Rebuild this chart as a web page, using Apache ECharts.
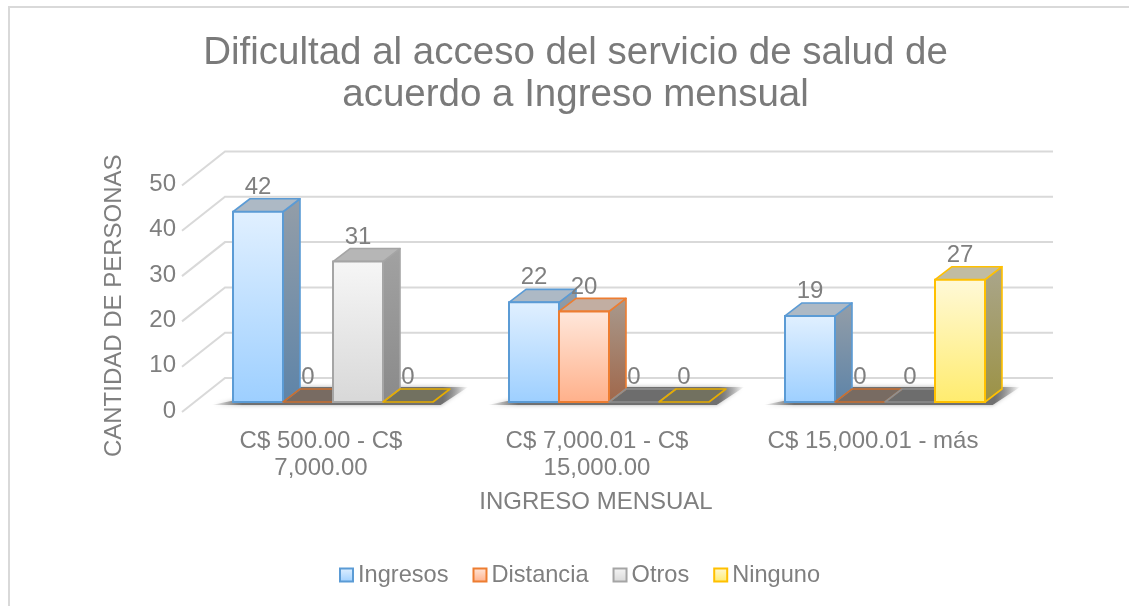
<!DOCTYPE html>
<html>
<head>
<meta charset="utf-8">
<style>html,body{margin:0;padding:0;background:#fff}#c{width:1129px;height:606px}</style>
<script src="https://cdn.jsdelivr.net/npm/echarts@6/dist/echarts.min.js"></script>
</head>
<body>
<div id="c"></div>
<script>
const titleText = 'Dificultad al acceso del servicio de salud de\nacuerdo a Ingreso mensual';
const categories = ['C$ 500.00 - C$\n7,000.00', 'C$ 7,000.01 - C$\n15,000.00', 'C$ 15,000.01 - más'];
const yTicks = [0, 10, 20, 30, 40, 50];
const seriesNames = ['Ingresos', 'Distancia', 'Otros', 'Ninguno'];
const ingresos = [42, 22, 19];
const distancia = [0, 20, 0];
const otros = [31, 0, 0];
const ninguno = [0, 0, 27];
const seriesValues = [ingresos, distancia, otros, ninguno];

const FONT = '"Liberation Sans", Arial, sans-serif';
const TXT = '#7f7f7f';
const grad = (a, b) => ({type:'linear', x:0, y:0, x2:0, y2:1, colorStops:[{offset:0,color:a},{offset:1,color:b}]});
const palette = [
  {line:'#5b9bd5', lineDark:'#5b9bd5', front:['#e1f0ff','#9dcfff'], side:['#949ea8','#5e84a8'], top:'#adb9c5', flat:'rgba(91,155,213,0.1)'},
  {line:'#ed7d31', lineDark:'#c86f30', front:['#ffe8dc','#ffb08a'], side:['#a89a8e','#a0674a'], top:'#c2aea2', flat:'rgba(150,90,50,0.22)'},
  {line:'#a5a5a5', lineDark:'#8f8f8f', front:['#f6f6f6','#d8d8d8'], side:['#a2a2a2','#8a8a8a'], top:'#b6b6b6', flat:'rgba(100,100,100,0.25)'},
  {line:'#ffc000', lineDark:'#e6ac00', front:['#fff9d8','#ffec6e'], side:['#aaa68c','#9c9244'], top:'#c1bca2', flat:'rgba(120,115,60,0.3)'}
];
const DX = 17, DY = -13;      // bar depth projection
const BAR_RATIO = 50 / 276;   // bar width / band width

function barItem(si) {
  return function (params, api) {
    const cat = api.value(0), val = api.value(1);
    const base = api.coord([cat, 0]);
    const tip = api.coord([cat, val]);
    const band = api.size([1, 0])[0];
    const w = band * BAR_RATIO;
    const x = base[0] - 2 * w + si * w;
    const y0 = base[1], y1 = tip[1];
    const p = palette[si];
    const kids = [];
    if (val > 0) {
      kids.push({type:'polygon', shape:{points:[[x+w,y1],[x+w+DX,y1+DY],[x+w+DX,y0+DY],[x+w,y0]]},
        style:{fill:grad(p.side[0],p.side[1]), stroke:p.line, lineWidth:1.6, lineJoin:'round'}});
      kids.push({type:'polygon', shape:{points:[[x,y1],[x+DX,y1+DY],[x+w+DX,y1+DY],[x+w,y1]]},
        style:{fill:p.top, stroke:p.line, lineWidth:1.6, lineJoin:'round'}});
      kids.push({type:'rect', shape:{x:x, y:y1, width:w, height:y0-y1},
        style:{fill:grad(p.front[0],p.front[1]), stroke:p.line, lineWidth:2}});
    } else {
      kids.push({type:'polygon', shape:{points:[[x,y0],[x+DX,y0+DY],[x+w+DX,y0+DY],[x+w,y0]]},
        style:{fill:p.flat, stroke:p.lineDark, lineWidth:1.6, lineJoin:'round'}});
    }
    kids.push({type:'text', z2:100, style:{text:String(val), x:x+w/2, y:y1-24.5, align:'center', verticalAlign:'middle',
      fill:TXT, font:'24px '+FONT}});
    return {type:'group', children:kids};
  };
}

function wallItem(params, api) {
  const p = api.coord([0, api.value(0)]);
  const cs = params.coordSys;
  const y = p[1];
  return {type:'polyline', shape:{points:[[cs.x-13,y+10],[cs.x+30,y-24],[cs.x+30+cs.width,y-24]]},
    style:{fill:null, stroke:'#d9d9d9', lineWidth:2}};
}

function shadowItem(params, api) {
  const base = api.coord([api.value(0), 0]);
  const band = api.size([1, 0])[0];
  const c = base[0], y = base[1];
  const l = c - band*0.44, r = c + band*0.39, tl = c - band*0.12, tr = c + band*0.49;
  return {type:'polygon', shape:{points:[[l,y+3],[r,y+3],[tr,y-15],[tl,y-15]]},
    style:{fill:{type:'linear',x:0,y:0,x2:1,y2:0,colorStops:[
      {offset:0,color:'rgba(110,110,110,0)'},{offset:0.12,color:'#707070'},{offset:0.9,color:'#707070'},{offset:1,color:'rgba(110,110,110,0)'}]},
      shadowBlur:4, shadowColor:'rgba(120,120,120,0.6)'}};
}

const series = [
  {type:'custom', name:'walls', silent:true, coordinateSystem:'cartesian2d', renderItem:wallItem,
    data:yTicks.map(v=>[v]), encode:{y:0}, z:1},
  {type:'custom', name:'floor', silent:true, coordinateSystem:'cartesian2d', renderItem:shadowItem,
    data:categories.map((c,i)=>[i]), encode:{x:0}, z:2}
];
seriesNames.forEach((name, si) => {
  series.push({type:'custom', name, coordinateSystem:'cartesian2d', renderItem:barItem(si),
    data:seriesValues[si].map((v,i)=>[i,v]), encode:{x:0,y:1}, z:3+si,
    itemStyle:{color:palette[si].line}});
});

const chart = echarts.init(document.getElementById('c'), null, {renderer:'canvas'});
chart.setOption({
  animation:false,
  backgroundColor:'#ffffff',
  textStyle:{fontFamily:FONT},
  title:{text:titleText, left:570.5, top:27, textAlign:'center',
    textStyle:{fontFamily:FONT, fontSize:38.5, fontWeight:'normal', color:'#7a7a7a', lineHeight:42}},
  grid:{left:195, width:828, top:175.5, height:226.5},
  xAxis:{type:'category', data:categories, name:'INGRESO MENSUAL', nameLocation:'middle', nameGap:88,
    nameTextStyle:{fontFamily:FONT, fontSize:24, color:TXT, padding:[0,26,0,0]},
    axisLine:{show:false}, axisTick:{show:false}, splitLine:{show:false},
    axisLabel:{interval:0, margin:26, color:TXT, fontFamily:FONT, fontSize:24, lineHeight:27, padding:[0,24,0,0]}},
  yAxis:{type:'value', min:0, max:50, interval:10, name:'CANTIDAD DE PERSONAS', nameLocation:'middle', nameGap:69,
    nameTextStyle:{fontFamily:FONT, fontSize:24, color:TXT, padding:[0,34,0,0]},
    axisLine:{show:false}, axisTick:{show:false}, splitLine:{show:false},
    axisLabel:{margin:19, color:TXT, fontFamily:FONT, fontSize:24, verticalAlign:'top', lineHeight:18}},
  legend:{left:334, top:558, itemWidth:13, itemHeight:13, itemGap:24, icon:'rect', selectedMode:false,
    textStyle:{fontFamily:FONT, fontSize:23.6, color:TXT},
    data:seriesNames.map((n,i)=>({name:n, itemStyle:{color:grad(palette[i].front[0],palette[i].front[1]), borderColor:palette[i].line, borderWidth:2}}))},
  graphic:[
    {type:'polyline', silent:true, shape:{points:[[9,606],[9,7],[1129,7]]}, style:{fill:null, stroke:'#d9d9d9', lineWidth:2}}
  ],
  series
});
</script>
</body>
</html>
